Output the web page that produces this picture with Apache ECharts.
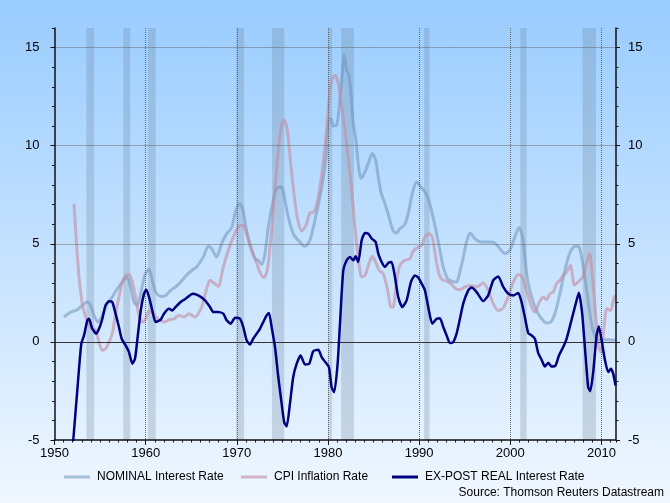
<!DOCTYPE html>
<html>
<head>
<meta charset="utf-8">
<script src="https://cdn.jsdelivr.net/npm/echarts@6/dist/echarts.min.js"></script>
<style>
html,body{margin:0;padding:0;}
#chart{width:670px;height:503px;background:linear-gradient(to bottom,#99ccff 0%,#f0f7ff 100%);}
</style>
</head>
<body>
<div id="chart"></div>
<script>
// ---- data ----
const nominalYears = [1951.04,1951.77,1952.5,1953.05,1953.6,1953.97,1954.33,1954.8,1955.24,1955.79,1956.34,1956.89,1957.44,1957.92,1958.36,1958.72,1959.08,1959.46,1959.89,1960.37,1960.73,1961.1,1961.65,1962.2,1962.75,1963.29,1963.84,1964.57,1965.3,1965.6,1966.32,1966.87,1967.24,1967.79,1968.34,1968.89,1969.44,1969.8,1970.27,1970.64,1971.0,1971.44,1971.99,1972.35,1972.73,1973.09,1973.45,1973.93,1974.37,1974.92,1975.28,1975.64,1976.19,1976.74,1977.48,1978.02,1978.57,1979.12,1979.5,1979.8,1980.03,1980.33,1980.58,1980.95,1981.2,1981.5,1981.79,1982.05,1982.3,1982.52,1982.78,1983.07,1983.32,1983.62,1984.06,1984.42,1984.86,1985.23,1985.52,1985.81,1986.25,1986.69,1987.16,1987.53,1987.9,1988.37,1988.81,1989.25,1989.73,1990.2,1990.64,1991.0,1991.44,1991.92,1992.28,1992.65,1993.13,1993.57,1994.11,1994.48,1994.84,1995.2,1995.6,1995.9,1996.12,1996.67,1997.22,1997.76,1998.31,1998.86,1999.41,1999.95,2000.5,2000.95,2001.31,2001.6,2001.9,2002.34,2002.89,2003.44,2003.99,2004.46,2004.9,2005.45,2005.99,2006.54,2007.09,2007.53,2007.89,2008.27,2008.63,2008.99,2009.47,2010.02,2010.74,2011.55];
const nominalValues = [1.27,1.52,1.64,1.86,2.03,1.86,1.35,1.01,1.35,1.95,2.29,2.71,3.05,3.31,2.8,2.03,1.86,2.46,3.39,3.7,3.14,2.54,2.32,2.37,2.63,2.8,3.05,3.44,3.73,3.82,4.33,4.87,4.76,4.33,5.01,5.52,5.83,6.54,7.05,6.8,5.86,4.92,4.24,4.16,3.95,4.5,5.86,7.05,7.82,7.9,7.22,6.37,5.52,5.18,4.87,5.18,6.2,7.39,8.4,9.5,11.3,11.39,11.0,11.05,11.81,13.34,14.62,13.85,13.6,12.66,11.13,10.28,9.09,8.33,8.66,9.09,9.6,9.26,8.41,7.64,7.05,6.37,5.65,5.55,5.78,5.94,6.54,7.56,8.15,7.9,7.64,7.31,6.54,5.52,4.67,3.82,3.22,3.1,3.05,3.6,4.3,5.1,5.55,5.4,5.25,5.1,5.09,5.09,5.04,4.75,4.5,4.67,5.35,5.83,5.43,4.33,3.14,2.29,1.6,1.18,0.96,1.01,1.44,2.46,3.65,4.53,4.87,4.84,4.16,2.97,1.78,0.76,0.16,0.11,0.11,0.08];

const cpiYears = [1952.14,1952.39,1952.69,1953.05,1953.42,1953.97,1954.52,1954.88,1955.24,1955.6,1955.98,1956.34,1956.7,1957.07,1957.44,1957.8,1958.17,1958.54,1958.9,1959.27,1959.63,1960.0,1960.37,1960.73,1961.1,1961.57,1962.01,1962.56,1963.11,1963.66,1964.2,1964.75,1965.41,1966.14,1966.69,1967.06,1967.5,1967.97,1968.52,1969.07,1969.61,1970.16,1970.71,1971.08,1971.44,1971.81,1972.18,1972.54,1972.98,1973.34,1973.71,1974.08,1974.44,1974.81,1975.17,1975.54,1975.91,1976.27,1976.63,1977.11,1977.59,1978.02,1978.46,1978.94,1979.42,1979.86,1980.1,1980.4,1980.77,1981.13,1981.5,1981.86,1982.22,1982.6,1982.96,1983.32,1983.7,1984.06,1984.5,1984.86,1985.23,1985.6,1986.06,1986.55,1986.91,1987.16,1987.53,1987.9,1988.44,1988.99,1989.35,1989.9,1990.28,1990.64,1991.08,1991.44,1991.81,1992.17,1992.54,1993.02,1993.49,1994.0,1994.48,1995.03,1995.57,1996.31,1997.03,1997.58,1998.13,1998.68,1999.23,1999.77,2000.32,2000.87,2001.31,2001.79,2002.34,2002.7,2003.14,2003.62,2003.99,2004.35,2004.71,2005.08,2005.45,2005.81,2006.18,2006.6,2007.05,2007.55,2007.95,2008.3,2008.7,2009.0,2009.35,2009.72,2009.94,2010.25,2010.6,2011.0,2011.4,2011.6];
const cpiValues = [7.05,5.18,3.31,1.95,1.27,0.76,0.59,-0.01,-0.43,-0.35,-0.01,0.42,1.44,2.29,3.05,3.39,3.44,3.05,2.29,1.35,1.01,1.18,1.57,1.52,1.27,1.1,1.01,1.13,1.18,1.35,1.27,1.44,1.27,1.78,2.71,3.14,3.0,2.83,3.82,4.67,5.35,5.86,5.94,5.52,5.01,4.5,4.02,3.56,3.28,3.65,5.18,7.22,9.26,10.79,11.34,10.79,9.09,7.56,6.37,5.65,5.94,6.57,6.62,7.39,8.92,10.79,12.3,13.34,13.6,13.17,11.98,10.79,9.43,7.73,5.86,4.33,3.31,3.39,3.99,4.36,4.07,3.65,3.48,2.63,1.78,1.78,3.14,3.9,4.16,4.24,4.63,4.84,4.92,5.35,5.52,5.35,4.33,3.48,3.17,3.1,2.97,2.71,2.66,2.8,2.88,2.8,3.0,2.63,1.95,1.6,1.74,2.29,3.05,3.44,3.31,2.63,1.78,1.52,1.98,2.29,2.15,2.46,2.54,2.97,3.14,3.39,3.56,3.9,2.9,3.1,3.3,3.9,4.5,3.4,1.5,-0.3,-0.52,0.59,1.7,1.6,2.29,2.37];

const realYears = [1951.95,1952.06,1952.5,1952.94,1953.24,1953.6,1953.78,1954.15,1954.59,1954.96,1955.25,1955.6,1955.98,1956.34,1956.7,1957.07,1957.37,1957.8,1958.17,1958.54,1958.83,1959.08,1959.46,1959.82,1960.07,1960.37,1960.73,1961.1,1961.65,1962.01,1962.56,1962.92,1963.29,1963.84,1964.39,1964.94,1965.22,1965.77,1966.51,1967.06,1967.42,1967.97,1968.52,1968.89,1969.33,1969.8,1970.35,1970.71,1971.08,1971.44,1971.8,1972.18,1972.54,1972.9,1973.27,1973.53,1973.82,1974.19,1974.55,1974.92,1975.2,1975.47,1975.83,1976.19,1976.57,1977.0,1977.48,1977.95,1978.39,1978.94,1979.31,1979.67,1980.11,1980.4,1980.69,1981.06,1981.32,1981.68,1982.05,1982.41,1982.78,1983.04,1983.32,1983.7,1984.06,1984.42,1984.79,1985.23,1985.52,1985.89,1986.25,1986.61,1986.98,1987.35,1987.71,1988.15,1988.63,1989.1,1989.54,1989.9,1990.28,1990.64,1991.0,1991.44,1991.92,1992.28,1992.65,1993.02,1993.38,1993.74,1994.11,1994.48,1994.84,1995.39,1995.76,1996.31,1997.03,1997.58,1998.13,1998.68,1999.23,1999.77,2000.32,2000.87,2001.24,2001.6,2001.97,2002.34,2002.7,2003.07,2003.44,2003.8,2004.16,2004.53,2004.97,2005.34,2005.81,2006.18,2006.54,2006.9,2007.28,2007.53,2007.89,2008.27,2008.55,2008.77,2009.1,2009.47,2009.72,2010.02,2010.38,2010.74,2011.04,2011.29,2011.55];
const realValues = [-5.6,-5.0,-2.47,-0.09,0.33,1.1,1.18,0.67,0.42,0.76,1.18,1.86,2.07,2.03,1.44,0.76,0.16,-0.18,-0.52,-1.11,-0.86,0.08,1.6,2.46,2.66,2.29,1.6,1.01,1.13,1.44,1.69,1.6,1.78,2.03,2.2,2.4,2.46,2.37,2.12,1.78,1.52,1.52,1.44,1.1,0.93,1.23,1.18,0.76,0.08,-0.13,0.16,0.42,0.67,1.01,1.35,1.47,0.76,-0.26,-1.79,-3.15,-4.09,-4.31,-3.15,-1.79,-1.11,-0.69,-1.15,-1.11,-0.47,-0.4,-0.78,-1.0,-1.29,-2.31,-2.56,-1.11,0.93,3.65,4.16,4.33,4.16,4.36,4.07,5.18,5.55,5.52,5.27,5.09,4.5,4.07,3.82,4.02,4.07,3.31,2.29,1.78,2.12,3.05,3.39,3.28,2.97,2.63,1.78,0.93,1.18,1.21,0.76,0.33,-0.06,-0.01,0.42,1.18,1.95,2.63,2.77,2.54,2.08,2.37,3.14,3.34,2.8,2.46,2.37,2.49,2.03,1.27,0.45,0.33,0.16,-0.57,-0.91,-1.25,-1.06,-1.25,-1.2,-0.69,-0.26,0.16,0.79,1.44,2.12,2.51,1.44,-0.78,-2.31,-2.51,-1.54,0.33,0.79,0.08,-0.91,-1.54,-1.37,-1.62,-2.22];

const recessions = [[1953.5,1954.35],[1957.55,1958.3],[1960.25,1961.1],[1969.92,1970.8],[1973.85,1975.2],[1980.0,1980.45],[1981.45,1982.85],[1990.55,1991.15],[2001.1,2001.8],[2007.93,2009.4]];
const seriesNames = ['NOMINAL Interest Rate', 'CPI Inflation Rate', 'EX-POST REAL Interest Rate'];
const sourceText = 'Source: Thomson Reuters Datastream';

// ---- build ----
function pairs(xs, ys) { return xs.map((x, i) => [x, ys[i]]); }
const FONT = 'Liberation Sans, Arial, sans-serif';
const X_MIN = 1950, X_MAX = 2011.6, Y_MIN = -5, Y_MAX = 16;

const chart = echarts.init(document.getElementById('chart'), null, {renderer: 'canvas'});

const dotted = {show: true, showMinLine: false, showMaxLine: false,
  lineStyle: {type: [1, 1], color: '#666', width: 1}};

const option = {
  backgroundColor: 'transparent',
  animation: false,
  grid: {left: 54.5, right: 54, top: 28, bottom: 63, containLabel: false},
  xAxis: [
    {type: 'value', min: X_MIN, max: X_MAX, interval: 10, position: 'bottom', z: 5,
     axisLine: {show: true, onZero: false, lineStyle: {color: '#111', width: 1.5}},
     axisTick: {show: true, length: 5, lineStyle: {color: '#111'}},
     axisLabel: {show: true, margin: 7, color: '#000', fontSize: 13, fontFamily: FONT, showMaxLabel: false,
       formatter: v => String(v)},
     splitLine: dotted},
    {type: 'value', min: X_MIN, max: X_MAX, interval: 1, position: 'bottom',
     axisLine: {show: false, onZero: false},
     axisTick: {show: true, length: 2.5, lineStyle: {color: '#111'}},
     axisLabel: {show: false}, splitLine: {show: false}}
  ],
  yAxis: [
    {type: 'value', min: Y_MIN, max: Y_MAX, interval: 5, position: 'left', z: 5,
     axisLine: {show: true, onZero: false, lineStyle: {color: '#111', width: 1.5}},
     axisTick: {show: true, length: 4, lineStyle: {color: '#111'}},
     axisLabel: {show: true, margin: 15, color: '#000', fontSize: 13, fontFamily: FONT, showMaxLabel: false},
     splitLine: dotted},
    {type: 'value', min: Y_MIN, max: Y_MAX, interval: 5, position: 'right', z: 5,
     axisLine: {show: true, onZero: false, lineStyle: {color: '#111', width: 1.5}},
     axisTick: {show: true, length: 4, lineStyle: {color: '#111'}},
     axisLabel: {show: true, margin: 12, color: '#000', fontSize: 13, fontFamily: FONT, showMaxLabel: false},
     splitLine: {show: false}},
    {type: 'value', min: Y_MIN, max: Y_MAX, interval: 1, position: 'left',
     axisLine: {show: false, onZero: false},
     axisTick: {show: true, length: 2.5, lineStyle: {color: '#111'}},
     axisLabel: {show: false}, splitLine: {show: false}},
    {type: 'value', min: Y_MIN, max: Y_MAX, interval: 1, position: 'right',
     axisLine: {show: false, onZero: false},
     axisTick: {show: true, length: 2.5, lineStyle: {color: '#111'}},
     axisLabel: {show: false}, splitLine: {show: false}}
  ],
  legend: [
    {data: [{name: seriesNames[0], icon: 'rect'}], left: 59, top: 466, itemWidth: 26, itemHeight: 3, itemGap: 0,
     textStyle: {color: '#000', fontSize: 12, fontFamily: FONT, padding: [0,0,0,2]}, selectedMode: false},
    {data: [{name: seriesNames[1], icon: 'rect'}], left: 236, top: 466, itemWidth: 26, itemHeight: 3, itemGap: 0,
     textStyle: {color: '#000', fontSize: 12, fontFamily: FONT, padding: [0,0,0,2]}, selectedMode: false},
    {data: [{name: seriesNames[2], icon: 'rect'}], left: 387, top: 466, itemWidth: 26, itemHeight: 3, itemGap: 0,
     textStyle: {color: '#000', fontSize: 12, fontFamily: FONT, padding: [0,0,0,2]}, selectedMode: false}
  ],
  graphic: [
    {type: 'text', right: 6, top: 487, style: {text: sourceText, font: '12px ' + FONT, fill: '#000'}}
  ],
  series: [
    {name: seriesNames[0], type: 'line', xAxisIndex: 0, yAxisIndex: 0, showSymbol: false, smooth: 0.25,
     data: pairs(nominalYears, nominalValues), z: 3,
     lineStyle: {color: 'rgba(110,148,185,0.55)', width: 3}, itemStyle: {color: 'rgba(110,148,185,0.55)'},
     markArea: {silent: true, itemStyle: {color: 'rgba(100,122,145,0.25)'},
       data: recessions.map(r => [{xAxis: r[0]}, {xAxis: r[1]}])},
     markLine: {silent: true, symbol: ['none','none'], label: {show: false},
       lineStyle: {type: 'solid', color: '#333', width: 1}, data: [{yAxis: 0}]}},
    {name: seriesNames[1], type: 'line', xAxisIndex: 0, yAxisIndex: 0, showSymbol: false, smooth: 0.25,
     data: pairs(cpiYears, cpiValues), z: 4,
     lineStyle: {color: 'rgba(195,140,160,0.6)', width: 3}, itemStyle: {color: 'rgba(195,140,160,0.6)'}},
    {name: seriesNames[2], type: 'line', xAxisIndex: 0, yAxisIndex: 0, showSymbol: false, smooth: 0.2,
     data: pairs(realYears, realValues), z: 5,
     lineStyle: {color: '#000080', width: 2.5}, itemStyle: {color: '#000080'}}
  ]
};
chart.setOption(option);
</script>
</body>
</html>
